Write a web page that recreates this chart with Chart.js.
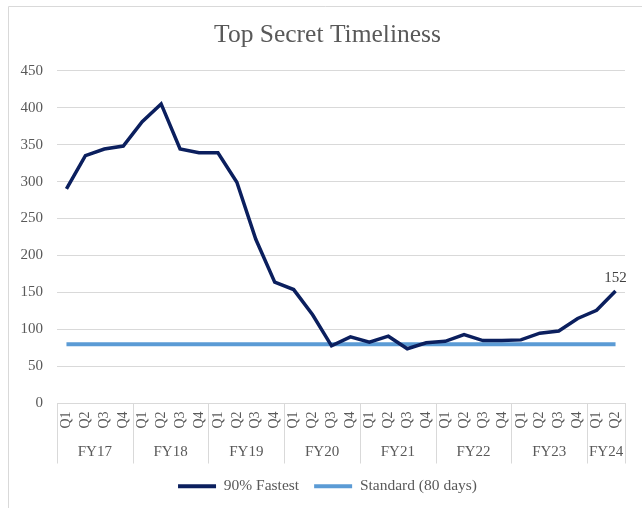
<!DOCTYPE html>
<html>
<head>
<meta charset="utf-8">
<title>Top Secret Timeliness</title>
<script src="https://cdn.jsdelivr.net/npm/chart.js@4.4.1/dist/chart.umd.min.js"></script>
<style>
  html, body { margin: 0; padding: 0; background: #fff; }
  #wrap { width: 642px; height: 508px; position: relative; }
</style>
</head>
<body>
<div id="wrap"><canvas id="grafica" width="642" height="508"></canvas></div>
<script>
// datos
const trimestres = ['Q1','Q2','Q3','Q4','Q1','Q2','Q3','Q4','Q1','Q2','Q3','Q4','Q1','Q2','Q3','Q4',
	'Q1','Q2','Q3','Q4','Q1','Q2','Q3','Q4','Q1','Q2','Q3','Q4','Q1','Q2'];
const aniosFiscales = ['FY17','FY18','FY19','FY20','FY21','FY22','FY23','FY24'];
const trimestresPorAnio = [4, 4, 4, 4, 4, 4, 4, 2];
const rapidos90 = [290, 335, 344, 348, 381, 405, 344, 339, 339, 299, 222, 164, 154, 120, 78,
	90, 83, 91, 74, 82, 84, 93, 85, 85, 86, 95, 98, 115, 126, 152];
const estandar = [80, 80, 80, 80, 80, 80, 80, 80, 80, 80, 80, 80, 80, 80, 80,
	80, 80, 80, 80, 80, 80, 80, 80, 80, 80, 80, 80, 80, 80, 80];
const ticksY = [0, 450, 50]; // min, max, paso

const fuente = '"Liberation Serif", "DejaVu Serif", serif';
const gris = '#595959';
const lineaGris = '#d9d9d9';

// dibuja marco, años fiscales y etiqueta del ultimo punto
const extras = {
	id: 'extras',
	afterLayout(chart) {
		// titulo y leyenda centrados sobre todo el marco, no solo el area con padding
		[chart.titleBlock, chart.legend].forEach(function (b) {
			if (b) { b.left += 15; b.right += 15; }
		});
	},
	beforeDraw(chart) {
		const ctx = chart.ctx;
		ctx.save();
		ctx.strokeStyle = lineaGris;
		ctx.lineWidth = 1;
		ctx.beginPath();
		ctx.moveTo(8.5, 508);
		ctx.lineTo(8.5, 6.5);
		ctx.lineTo(642, 6.5);
		ctx.stroke();
		ctx.restore();
	},
	afterDraw(chart) {
		const ctx = chart.ctx;
		const x = chart.scales.x;
		const arriba = chart.chartArea.bottom;
		const abajo = arriba + 60;
		const paso = x.getPixelForValue(1) - x.getPixelForValue(0);
		ctx.save();
		ctx.strokeStyle = lineaGris;
		ctx.lineWidth = 1;
		ctx.fillStyle = gris;
		ctx.font = '15px ' + fuente;
		ctx.textAlign = 'center';
		ctx.textBaseline = 'middle';
		let idx = 0;
		let izq = x.getPixelForValue(0) - paso / 2;
		const linea = function (px) {
			px = Math.round(px) + 0.5;
			ctx.beginPath();
			ctx.moveTo(px, arriba);
			ctx.lineTo(px, abajo);
			ctx.stroke();
		};
		linea(izq);
		aniosFiscales.forEach(function (anio, i) {
			idx += trimestresPorAnio[i];
			const der = x.getPixelForValue(idx - 1) + paso / 2;
			ctx.fillText(anio, (izq + der) / 2, arriba + 49);
			linea(der);
			izq = der;
		});

		// etiqueta del ultimo valor
		const meta = chart.getDatasetMeta(0);
		const ultimo = meta.data[meta.data.length - 1];
		ctx.fillStyle = '#404040';
		ctx.textBaseline = 'bottom';
		ctx.fillText(String(rapidos90[rapidos90.length - 1]), ultimo.x, ultimo.y - 5);
		ctx.restore();
	}
};

const ctx = document.getElementById('grafica').getContext('2d');
new Chart(ctx, {
	type: 'line',
	data: {
		labels: trimestres,
		datasets: [{
			label: '90% Fastest',
			data: rapidos90,
			borderColor: '#0b1f5e',
			backgroundColor: '#0b1f5e',
			borderWidth: 3.5,
			pointRadius: 0,
			tension: 0
		}, {
			label: 'Standard (80 days)',
			data: estandar,
			borderColor: '#5b9bd5',
			backgroundColor: '#5b9bd5',
			borderWidth: 4,
			pointRadius: 0,
			tension: 0
		}]
	},
	options: {
		responsive: false,
		animation: false,
		layout: { padding: { top: 6, right: 17, left: 0, bottom: 4 } },
		plugins: {
			title: {
				display: true,
				text: 'Top Secret Timeliness',
				color: gris,
				font: { family: fuente, size: 25.5, weight: 'normal' },
				padding: { top: 14, bottom: 20 }
			},
			legend: {
				position: 'bottom',
				labels: {
					color: gris,
					font: { family: fuente, size: 15.5 },
					boxWidth: 38,
					boxHeight: 4,
					padding: 15,
					generateLabels(chart) {
						const items = Chart.defaults.plugins.legend.labels.generateLabels(chart);
						items.forEach(function (it) { it.lineWidth = 0; });
						return items;
					}
				}
			},
			tooltip: { enabled: false }
		},
		scales: {
			x: {
				offset: true,
				grid: { display: false, drawTicks: false },
				border: { display: true, color: lineaGris },
				ticks: {
					color: gris,
					font: { family: fuente, size: 14 },
					minRotation: 90,
					maxRotation: 90,
					autoSkip: false,
					padding: 8
				},
				afterFit(scale) { scale.height = 60; }
			},
			y: {
				min: ticksY[0],
				max: ticksY[1],
				grid: { color: lineaGris, drawTicks: false },
				border: { display: false },
				ticks: {
					stepSize: ticksY[2],
					color: gris,
					font: { family: fuente, size: 15 },
					padding: 14
				},
				afterFit(scale) { scale.width = 57; }
			}
		}
	},
	plugins: [extras]
});
</script>
</body>
</html>
